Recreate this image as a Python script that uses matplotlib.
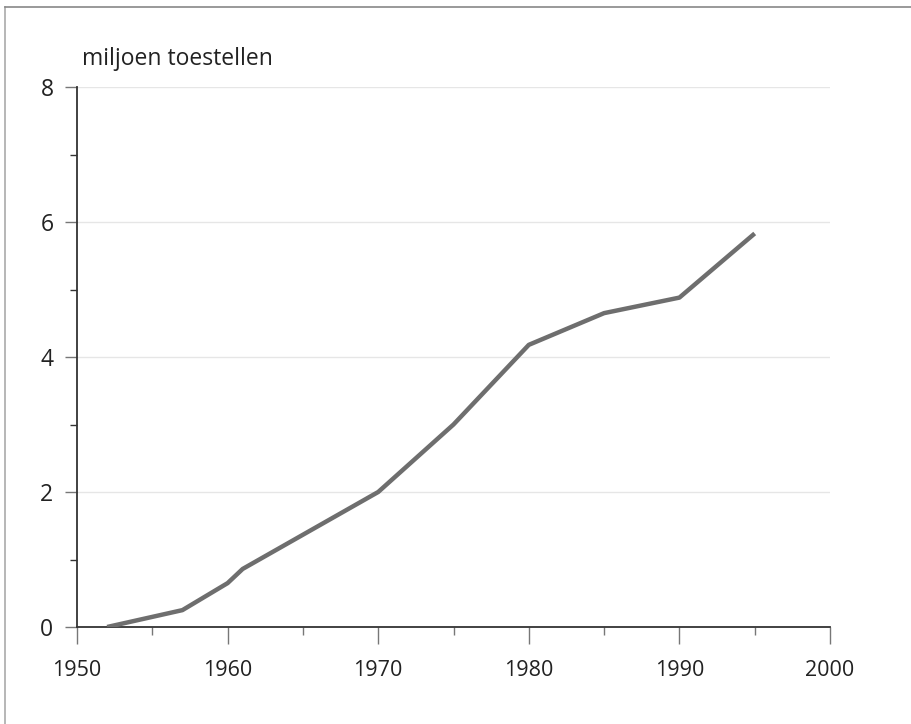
import matplotlib.pyplot as plt
from matplotlib.lines import Line2D
from matplotlib.ticker import MultipleLocator

jaren = [1952, 1957, 1960, 1961, 1970, 1975, 1980, 1985, 1990, 1995]
toestellen = [0.0, 0.25, 0.65, 0.86, 2.0, 3.0, 4.18, 4.65, 4.88, 5.83]

plt.rcParams["font.family"] = ["Open Sans", "DejaVu Sans"]

fig = plt.figure(figsize=(9.11, 7.24), dpi=100)
ax = fig.add_axes([77 / 911, 1 - 627 / 724, (830 - 77) / 911, (627 - 87) / 724])

ax.plot(jaren, toestellen, color="#6e6e6e", linewidth=3.2, solid_capstyle="butt", zorder=3)

ax.set_xlim(1950, 2000)
ax.set_ylim(0, 8)
ax.xaxis.set_major_locator(MultipleLocator(10))
ax.xaxis.set_minor_locator(MultipleLocator(5))
ax.yaxis.set_major_locator(MultipleLocator(2))
ax.yaxis.set_minor_locator(MultipleLocator(1))

ax.grid(axis="y", which="major", color="#e6e6e6", linewidth=1)
ax.set_axisbelow(True)

for s in ["top", "right"]:
    ax.spines[s].set_visible(False)
for s in ["left", "bottom"]:
    ax.spines[s].set_color("#333333")
    ax.spines[s].set_linewidth(1.3)

ax.tick_params(axis="x", which="major", direction="out", length=12, width=1, color="#777777",
               labelsize=15.5, pad=12, labelcolor="#222222")
ax.tick_params(axis="x", which="minor", direction="out", length=6, width=1, color="#777777")
ax.tick_params(axis="y", which="major", direction="out", length=9, width=1, color="#777777",
               labelsize=16.5, pad=8, labelcolor="#222222")
ax.tick_params(axis="y", which="minor", direction="out", length=5, width=1, color="#333333")

fig.text(82 / 911, 1 - 59 / 724, "miljoen toestellen", fontsize=16.5, color="#222222",
         ha="left", va="center")

# rand links en boven
fig.add_artist(Line2D([5 / 911, 5 / 911], [0, 1 - 7 / 724], transform=fig.transFigure,
                      color="#aaaaaa", linewidth=1.2))
fig.add_artist(Line2D([5 / 911, 1], [1 - 7 / 724, 1 - 7 / 724], transform=fig.transFigure,
                      color="#888888", linewidth=1.2))

fig.savefig("out.png", dpi=100)
